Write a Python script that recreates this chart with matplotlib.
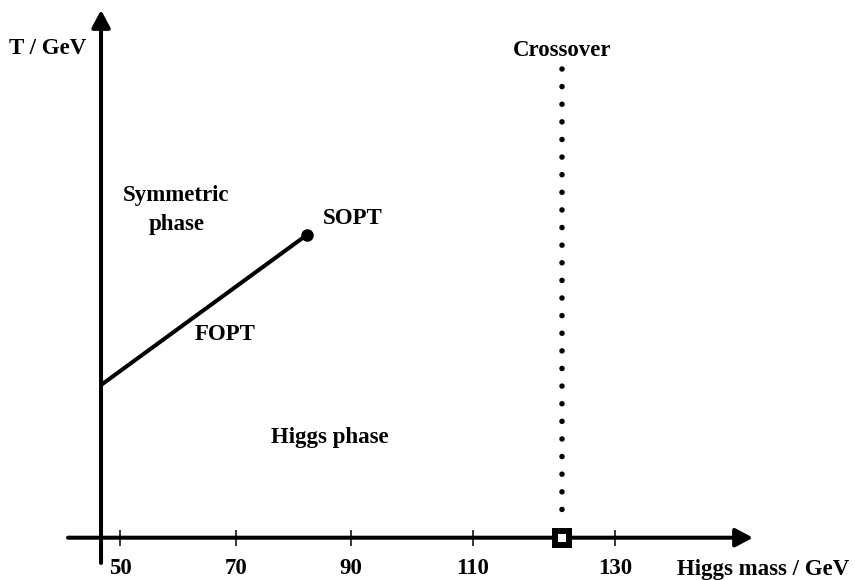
import numpy as np
import matplotlib
matplotlib.use("Agg")
import matplotlib.pyplot as plt

# ---------------- data ----------------
tick_masses = [50, 70, 90, 110, 130]
tick_labels = ["50", "70", "90", "110", "130"]
# the drawn axis is not linear: positions of the ticks along the axis (pixels)
tick_knots_px = [120, 235.7, 350.7, 472.7, 615]

fopt_mass = [46.72, 82.35]      # first-order transition line (Higgs mass)
fopt_T = [152.7, 302.7]         # temperature (arbitrary units)
sopt_mass = [82.35]
sopt_T = [302.7]
crossover_mass = [122.6, 122.6]
crossover_T = [468.4, 28.0]
endpoint_mass = [122.6]
endpoint_T = [0.0]

FONT = dict(family="Liberation Serif", weight="bold", size=16.5)


def _pw(x, xs, ys):
    x = np.asarray(x, dtype=float)
    xs = np.asarray(xs, dtype=float)
    ys = np.asarray(ys, dtype=float)
    y = np.interp(x, xs, ys)
    y = np.where(x < xs[0], ys[0] + (x - xs[0]) * (ys[1] - ys[0]) / (xs[1] - xs[0]), y)
    y = np.where(x > xs[-1], ys[-1] + (x - xs[-1]) * (ys[-1] - ys[-2]) / (xs[-1] - xs[-2]), y)
    return y


def fwd(m):
    return _pw(m, tick_masses, tick_knots_px)


def inv(p):
    return _pw(p, tick_knots_px, tick_masses)


fig = plt.figure(figsize=(8.55, 5.8), dpi=100)
ax = fig.add_axes([0, 0, 1, 1])
ax.set_xscale("function", functions=(fwd, inv))
ax.set_xlim(float(inv(0)), float(inv(855)))
ax.set_ylim(-42.3, 537.7)
for s in ax.spines.values():
    s.set_color("none")
ax.spines["bottom"].set_position(("data", 0))
ax.set_facecolor("white")

ax.set_xticks(tick_masses)
ax.set_xticklabels(tick_labels, fontdict=FONT)
ax.xaxis.set_minor_locator(matplotlib.ticker.NullLocator())
ax.tick_params(axis="x", direction="inout", length=11, width=1.1, color="black", pad=9)
ax.tick_params(axis="y", left=False, labelleft=False)
ax.set_yticks([])

# axes with arrows
x_left, x_right = float(inv(68)), float(inv(753))
y_axis_m = fopt_mass[0]
arrow_kw = dict(arrowstyle="-|>,head_length=0.75,head_width=0.4", lw=2.9,
                color="black", shrinkA=0, shrinkB=0, mutation_scale=14)
ax.annotate("", xy=(x_right, 0), xytext=(x_left, 0), arrowprops=arrow_kw, zorder=3)
ax.annotate("", xy=(y_axis_m, 527.7), xytext=(y_axis_m, -25.3), arrowprops=arrow_kw, zorder=3)

# FOPT line and SOPT endpoint
ax.plot(fopt_mass, fopt_T, color="black", lw=2.9, solid_capstyle="butt", zorder=4)
ax.plot(sopt_mass, sopt_T, "o", color="black", ms=8, zorder=5)

# crossover dotted line
ax.plot(crossover_mass, crossover_T, color="black", lw=4.0,
        linestyle=(0, (0.001, 3.17)), dash_capstyle="round", zorder=4)
ax.plot(endpoint_mass, endpoint_T, "s", ms=10.1, mew=4.3, mfc="white", mec="black", zorder=6)

# text
ax.text(float(inv(48)), 488.7, "T / GeV", ha="center", va="center", **FONT)
ax.text(122.6, 487.7, "Crossover", ha="center", va="center", **FONT)
ax.text(59.77, 327.7, "Symmetric\nphase", ha="center", va="center", linespacing=1.55, **FONT)
ax.text(90.3, 318.7, "SOPT", ha="center", va="center", **FONT)
ax.text(68.15, 203.7, "FOPT", ha="center", va="center", **FONT)
ax.text(86.4, 100.7, "Higgs phase", ha="center", va="center", **FONT)
ax.text(float(inv(677)), -37.3, "Higgs mass / GeV", ha="left", va="baseline", **FONT)

fig.savefig("out.png", dpi=100, facecolor="white")
